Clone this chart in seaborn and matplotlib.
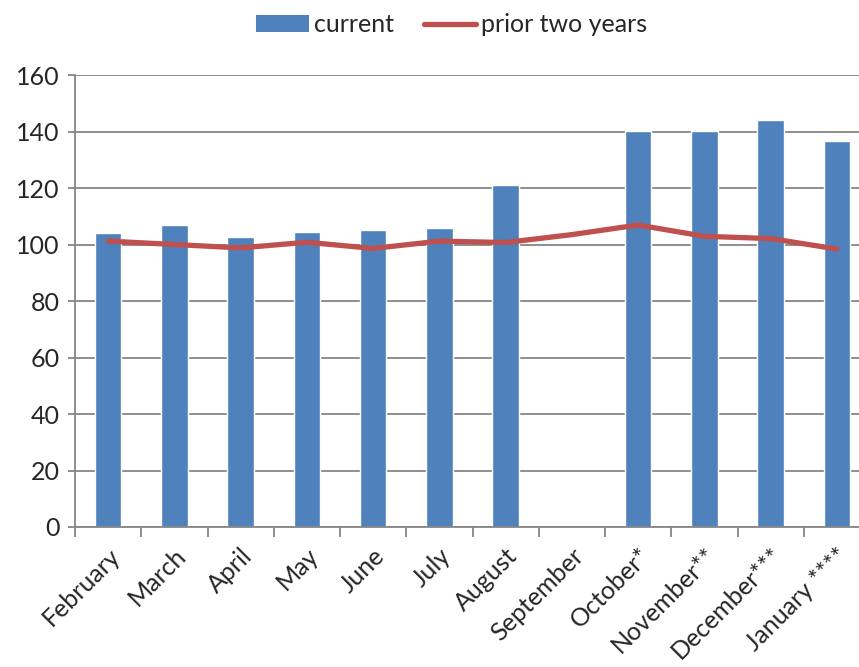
import matplotlib
matplotlib.use('Agg')
import matplotlib.pyplot as plt
import seaborn as sns
import numpy as np
import pandas as pd
from matplotlib.lines import Line2D
from matplotlib.patches import Patch
from matplotlib.ticker import MultipleLocator

months = ['February', 'March', 'April', 'May', 'June', 'July', 'August',
          'September', 'October*', 'November**', 'December***', 'January ****']
current = [104.2, 106.9, 102.7, 104.5, 105.2, 105.9, 121.1,
           np.nan, 140.1, 140.1, 143.9, 136.8]
prior = [101.2, 100.0, 98.8, 100.8, 98.6, 101.2, 100.7,
         103.5, 106.9, 102.9, 102.1, 98.4]

df = pd.DataFrame({'month': months, 'current': current, 'prior': prior})

sns.set_style('white')
plt.rcParams['font.family'] = ['Lato', 'DejaVu Sans']

blue = '#4F81BD'
red = '#C0504D'
grey = '#868686'
fs = 18

fig = plt.figure(figsize=(8.59, 6.67), dpi=100)
ax = fig.add_axes([75 / 859, 140 / 667, 795 / 859, 452 / 667])

sns.barplot(data=df, x='month', y='current', color=blue, width=0.4,
            saturation=1, ax=ax, zorder=2)
sns.pointplot(data=df, x='month', y='prior', color=red, markers='',
              linestyles='-', errorbar=None, ax=ax, zorder=3)
for ln in ax.lines:
    ln.set_linewidth(3.8)
    ln.set_solid_capstyle('round')
    ln.set_solid_joinstyle('round')

ax.set_xlim(-0.5, 11.5)
ax.set_ylim(0, 160)
ax.yaxis.set_major_locator(MultipleLocator(20))
ax.grid(axis='y', color=grey, linewidth=1.3, zorder=0)
ax.set_axisbelow(True)
ax.set_xlabel('')
ax.set_ylabel('')

for side in ['top', 'right']:
    ax.spines[side].set_visible(False)
for side in ['left', 'bottom']:
    ax.spines[side].set_color(grey)
    ax.spines[side].set_linewidth(1.3)

ax.set_xticks(np.arange(12))
ax.set_xticklabels(months, rotation=45, ha='right', rotation_mode='anchor',
                   fontsize=fs)
ax.set_xticks(np.arange(-0.5, 12, 1), minor=True)
ax.tick_params(axis='x', which='major', length=0, pad=12)
ax.tick_params(axis='x', which='minor', length=7, width=1.3, color=grey,
               direction='out')
ax.tick_params(axis='y', length=5, width=1.3, color=grey, direction='out',
               labelsize=fs, pad=6)
ax.tick_params(left=True, bottom=True, which='both')

handles = [Patch(facecolor=blue, edgecolor='none', label='current'),
           Line2D([0], [0], color=red, linewidth=3.8, label='prior two years')]
fig.legend(handles=handles, loc='center', bbox_to_anchor=(452 / 859, 1 - 25 / 667),
           ncol=2, frameon=False, fontsize=fs, handlelength=2.1,
           handleheight=0.65, handletextpad=0.2, columnspacing=1.2)

fig.savefig('out.png', dpi=100)
